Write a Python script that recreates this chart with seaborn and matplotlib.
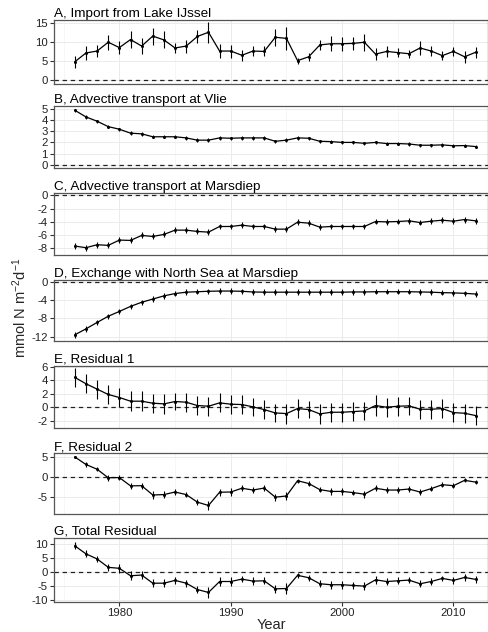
import numpy as np
import pandas as pd
import seaborn as sns
import matplotlib.pyplot as plt
from matplotlib.ticker import MultipleLocator

years = list(range(1976, 2013))

# A, Import from Lake IJssel
imp_val = [4.8, 7.1, 7.6, 9.9, 8.5, 10.6, 8.9, 11.5, 10.5, 8.4, 8.9, 11.4, 12.5,
           7.6, 7.6, 6.5, 7.6, 7.5, 11.2, 10.9, 5.1, 6.1, 9.2, 9.5, 9.5, 9.6, 9.9,
           6.8, 7.5, 7.2, 6.9, 8.4, 7.6, 6.4, 7.5, 6.1, 7.3]
imp_err = [1.6, 1.8, 1.5, 2.0, 1.8, 2.2, 2.0, 2.2, 2.2, 1.2, 1.7, 1.7, 2.7,
           1.8, 1.7, 1.4, 1.3, 1.3, 2.2, 3.0, 0.8, 1.0, 1.3, 1.9, 1.8, 1.7, 2.2,
           1.6, 1.4, 1.1, 1.0, 1.8, 1.2, 1.1, 1.2, 1.5, 1.4]

# B, Advective transport at Vlie
vlie_val = [4.85, 4.26, 3.88, 3.4, 3.17, 2.82, 2.76, 2.5, 2.5, 2.5, 2.4, 2.2, 2.2,
            2.4, 2.37, 2.4, 2.4, 2.4, 2.1, 2.2, 2.4, 2.37, 2.1, 2.07, 2.0, 2.0, 1.92,
            2.0, 1.9, 1.9, 1.86, 1.75, 1.75, 1.78, 1.7, 1.72, 1.63]
vlie_err = [0.15] * 37

# C, Advective transport at Marsdiep
mars_val = [-7.65, -7.9, -7.45, -7.55, -6.75, -6.8, -6.05, -6.2, -5.9, -5.25, -5.25, -5.45, -5.55,
            -4.7, -4.7, -4.5, -4.7, -4.7, -5.1, -5.1, -4.05, -4.2, -4.8, -4.7, -4.7, -4.7, -4.7,
            -3.95, -4.0, -3.95, -3.85, -4.1, -3.9, -3.75, -3.9, -3.65, -3.85]
mars_err = [0.45] * 37

# D, Exchange with North Sea at Marsdiep
exch_val = [-11.6, -10.3, -8.9, -7.55, -6.5, -5.4, -4.5, -3.8, -3.1, -2.6, -2.3, -2.2, -2.1,
            -2.05, -2.05, -2.1, -2.25, -2.3, -2.3, -2.3, -2.3, -2.3, -2.3, -2.3, -2.3, -2.25, -2.25,
            -2.2, -2.2, -2.2, -2.2, -2.25, -2.3, -2.4, -2.45, -2.55, -2.7]
exch_err = [0.6] * 37

# E, Residual 1
res1_val = [4.45, 3.5, 2.7, 1.9, 1.45, 0.9, 0.9, 0.6, 0.5, 0.85, 0.75, 0.25, 0.15,
            0.65, 0.45, 0.4, 0.05, -0.35, -0.85, -0.95, -0.2, -0.35, -1.0, -0.75, -0.75, -0.65, -0.55,
            0.25, 0.0, 0.15, 0.2, -0.3, -0.3, -0.2, -0.8, -0.9, -1.25]
res1_err = [1.45, 1.4, 1.4, 1.4, 1.45, 1.5, 1.5, 1.4, 1.5, 1.3, 1.4, 1.4, 1.4,
            1.4, 1.4, 1.4, 1.4, 1.4, 1.4, 1.5, 1.4, 1.3, 1.5, 1.4, 1.4, 1.4, 1.4,
            1.6, 1.4, 1.4, 1.3, 1.4, 1.4, 1.4, 1.4, 1.4, 1.4]

# F, Residual 2
res2_val = [5.0, 3.1, 1.9, -0.25, -0.2, -2.3, -2.25, -4.6, -4.5, -3.85, -4.5, -6.4, -7.25,
            -3.9, -3.85, -2.9, -3.35, -2.85, -5.15, -4.85, -1.0, -1.7, -3.25, -3.7, -3.7, -4.0, -4.4,
            -2.9, -3.35, -3.35, -3.1, -3.85, -3.0, -2.0, -2.25, -0.9, -1.35]
res2_err = [0.3, 0.6, 0.5, 0.8, 0.7, 0.8, 0.8, 0.9, 0.9, 0.7, 0.7, 0.7, 1.1,
            0.9, 1.0, 0.7, 0.8, 0.8, 0.9, 1.1, 0.5, 0.6, 0.7, 0.8, 0.8, 0.7, 0.9,
            0.7, 0.8, 0.7, 0.7, 0.7, 0.7, 0.6, 0.7, 0.5, 0.5]

# G, Total Residual
tot_val = [9.2, 6.35, 4.55, 1.55, 1.2, -1.45, -1.2, -4.1, -4.1, -3.1, -4.1, -6.35, -7.4,
           -3.5, -3.5, -2.65, -3.35, -3.25, -6.1, -6.0, -1.3, -2.15, -4.3, -4.65, -4.65, -4.9, -5.15,
           -2.9, -3.5, -3.25, -3.0, -4.3, -3.5, -2.4, -3.1, -2.05, -2.75]
tot_err = [1.2, 1.2, 1.2, 1.3, 1.5, 1.6, 1.5, 1.5, 1.5, 1.2, 1.3, 1.2, 1.8,
           1.5, 1.5, 1.2, 1.3, 1.2, 1.5, 1.8, 1.0, 1.0, 1.2, 1.4, 1.4, 1.2, 1.5,
           1.5, 1.3, 1.2, 1.0, 1.3, 1.3, 1.0, 1.3, 1.4, 1.3]

panels = [
    ("A, Import from Lake IJssel", imp_val, imp_err, (-1.0, 15.7), [0, 5, 10, 15]),
    ("B, Advective transport at Vlie", vlie_val, vlie_err, (-0.27, 5.23), [0, 1, 2, 3, 4, 5]),
    ("C, Advective transport at Marsdiep", mars_val, mars_err, (-9.0, 0.35), [-8, -6, -4, -2, 0]),
    ("D, Exchange with North Sea at Marsdiep", exch_val, exch_err, (-12.95, 0.36), [-12, -8, -4, 0]),
    ("E, Residual 1", res1_val, res1_err, (-3.1, 6.15), [-2, 0, 2, 4, 6]),
    ("F, Residual 2", res2_val, res2_err, (-9.4, 6.0), [-5, 0, 5]),
    ("G, Total Residual", tot_val, tot_err, (-10.8, 12.0), [-10, -5, 0, 5, 10]),
]

# axes top/bottom in pixels
px = [(20, 84), (106, 168), (193, 255), (280, 341), (366, 428), (453, 514), (538, 602)]

sns.set_theme(style="ticks")
plt.rcParams['font.family'] = ['Liberation Sans', 'DejaVu Sans']
plt.rcParams['axes.unicode_minus'] = False
plt.rcParams['mathtext.default'] = 'regular'

W, H = 488, 632
fig = plt.figure(figsize=(W / 100, H / 100), dpi=100)

for i, (title, vals, errs, ylim, yticks) in enumerate(panels):
    top, bot = px[i]
    ax = fig.add_axes([54 / W, 1 - bot / H, 1 - 54 / W, (bot - top) / H])
    df = pd.DataFrame({"Year": years, "val": vals, "err": errs})

    ax.axhline(0, color="#222222", lw=0.9, ls=(0, (3.5, 3)), zorder=1)
    ax.errorbar(df["Year"], df["val"], yerr=df["err"], fmt="none",
                ecolor="black", elinewidth=0.8, capsize=0, zorder=2)
    sns.lineplot(data=df, x="Year", y="val", ax=ax, color="black", lw=0.9,
                 marker="o", markersize=2.2, markeredgewidth=0, zorder=3)

    ax.set_xlim(1974.13, 2013.1)
    ax.set_ylim(*ylim)
    ax.set_yticks(yticks)
    ax.xaxis.set_major_locator(MultipleLocator(10))
    ax.xaxis.set_minor_locator(MultipleLocator(5))
    ax.grid(which="major", color="#ebebeb", lw=0.7)
    ax.grid(which="minor", axis="x", color="#f3f3f3", lw=0.5)
    ax.set_axisbelow(True)
    for s in ax.spines.values():
        s.set_color("#555555")
        s.set_linewidth(0.9)
    ax.tick_params(axis="both", which="major", length=3, width=0.8, color="#333333",
                   labelsize=8.2, labelcolor="#222222", pad=1.5)
    ax.tick_params(axis="both", which="minor", length=0)
    ax.set_ylabel("")
    ax.set_title(title, loc="left", fontsize=9.7, pad=2, color="black")
    if i < len(panels) - 1:
        ax.set_xlabel("")
        ax.tick_params(axis="x", labelbottom=False, length=0)
    else:
        ax.set_xlabel("Year", fontsize=10.5, labelpad=0)

fig.text(20 / W, 1 - 308 / H, r"mmol N m$^{-2}$d$^{-1}$", rotation=90,
         ha="center", va="center", fontsize=10.5)

fig.savefig("out.png", dpi=100)
